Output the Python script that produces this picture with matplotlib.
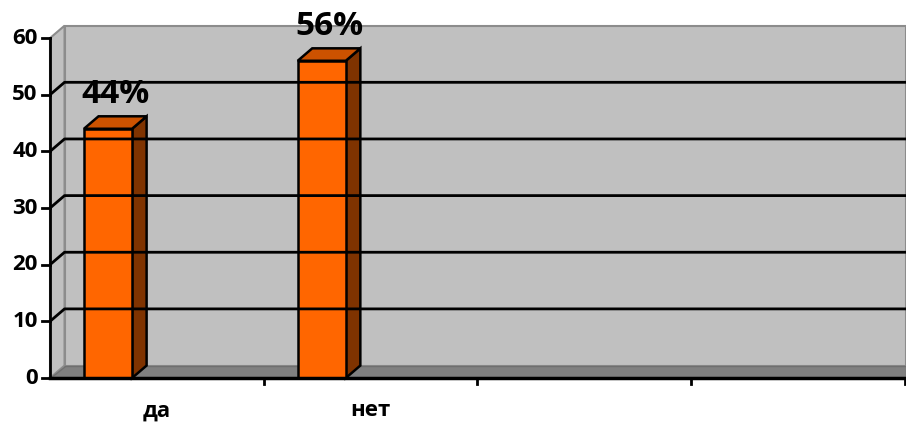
import matplotlib
matplotlib.use("Agg")
import matplotlib.pyplot as plt
from matplotlib.patches import Polygon

plt.rcParams["font.family"] = ["Open Sans", "DejaVu Sans"]

categories = ["да", "нет", "", ""]
values = [44, 56]
value_labels = ["44%", "56%"]
y_ticks = [0, 10, 20, 30, 40, 50, 60]

# псевдо-3D: сдвиг задней стенки по x (в долях категории) и по y (в единицах оси)
DX = 0.068
DY = 2.2
X_MAX = 4.005
Y_MAX = 63.2
BAR_OFF = 0.159
BAR_W = 0.225

WALL = "#c0c0c0"
FLOOR = "#808080"
FRONT = "#ff6600"
SIDE = "#7f3300"
TOP = "#cc5200"

fig = plt.figure(figsize=(9.06, 4.23), dpi=100)
ax = fig.add_axes([50 / 906, 45 / 423, 856 / 906, 358 / 423])
ax.set_xlim(0, X_MAX)
ax.set_ylim(0, Y_MAX)
ax.axis("off")

top = y_ticks[-1]

# задняя стенка, боковая стенка и пол
ax.add_patch(Polygon([(DX, DY), (X_MAX, DY), (X_MAX, top + DY), (DX, top + DY)],
                     closed=True, facecolor=WALL, edgecolor="#8c8c8c", lw=1.5, clip_on=False))
ax.add_patch(Polygon([(0, 0), (DX, DY), (DX, top + DY), (0, top)],
                     closed=True, facecolor=WALL, edgecolor="#8c8c8c", lw=1.5, clip_on=False))
ax.add_patch(Polygon([(0, 0), (X_MAX, 0), (X_MAX, DY), (DX, DY)],
                     closed=True, facecolor=FLOOR, edgecolor="#6e6e6e", lw=1, clip_on=False))

# линии сетки на стенках
for v in y_ticks[1:-1]:
    ax.plot([0, DX, X_MAX], [v, v + DY, v + DY], color="black", lw=2, clip_on=False,
            solid_capstyle="butt")

# столбцы
for i, (v, lab) in enumerate(zip(values, value_labels)):
    x0 = i + BAR_OFF
    x1 = x0 + BAR_W
    ax.add_patch(Polygon([(x1, 0), (x1 + DX, DY), (x1 + DX, v + DY), (x1, v)],
                         closed=True, facecolor=SIDE, edgecolor="black", lw=1.8, clip_on=False))
    ax.add_patch(Polygon([(x0, v), (x0 + DX, v + DY), (x1 + DX, v + DY), (x1, v)],
                         closed=True, facecolor=TOP, edgecolor="black", lw=1.8, clip_on=False))
    ax.add_patch(Polygon([(x0, 0), (x1, 0), (x1, v), (x0, v)],
                         closed=True, facecolor=FRONT, edgecolor="black", lw=1.8, clip_on=False))
    ax.text(x0 + (BAR_W + DX) / 2, v + 6, lab, ha="center", va="center",
            fontsize=24, fontweight="bold", clip_on=False)

# оси
ax.plot([0, 0], [0, top], color="black", lw=2, clip_on=False)
ax.plot([0, X_MAX], [0, 0], color="black", lw=2.5, clip_on=False)
for v in y_ticks:
    ax.plot([-0.038, 0], [v, v], color="black", lw=2, clip_on=False)
    ax.text(-0.058, v, str(v), ha="right", va="center", fontsize=16,
            fontweight="bold", clip_on=False)
for k in range(1, len(categories) + 1):
    ax.plot([k, k], [0, -1.1], color="black", lw=2, clip_on=False)
for i, c in enumerate(categories):
    ax.text(i + 0.5, -5.8, c, ha="center", va="center", fontsize=16,
            fontweight="bold", clip_on=False)

fig.savefig("out.png", dpi=100)
